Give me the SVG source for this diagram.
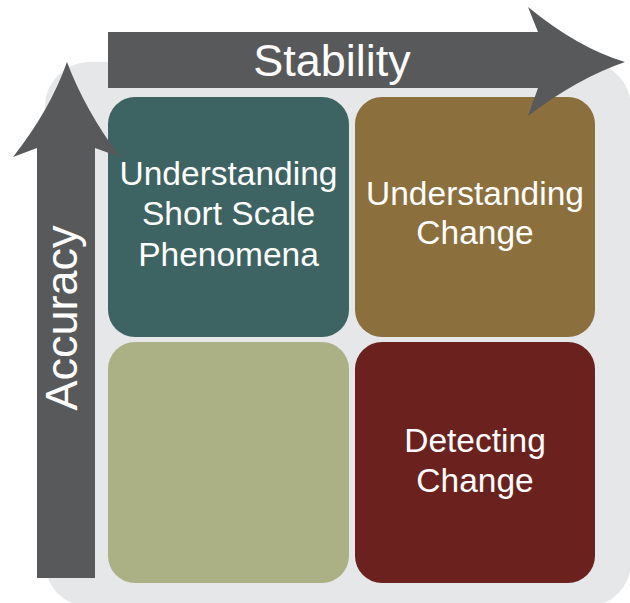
<svg xmlns="http://www.w3.org/2000/svg" width="630" height="603" viewBox="0 0 630 603">
<style>
.lbl{font-family:"Liberation Sans",Arial,sans-serif;fill:#ffffff;text-anchor:middle}
.q{font-size:33.5px}
.ax{font-size:45px}
.arrow{fill:#58595b}
</style>
<rect x="0" y="0" width="630" height="603" fill="#ffffff"/>
<rect id="background" x="45" y="62" width="586" height="545" rx="45" ry="45" fill="#e6e7e8"/>
<g id="q-short-scale">
<rect x="108" y="97" width="241" height="240" rx="27" ry="27" fill="#3d6462"/>
<text class="lbl q" x="228.5" y="185">Understanding</text>
<text class="lbl q" x="228.5" y="225">Short Scale</text>
<text class="lbl q" x="228.5" y="266">Phenomena</text>
</g>
<g id="q-understanding-change">
<rect x="355" y="97" width="240" height="240" rx="27" ry="27" fill="#8b6f3c"/>
<text class="lbl q" x="475" y="205">Understanding</text>
<text class="lbl q" x="475" y="244">Change</text>
</g>
<g id="q-empty">
<rect x="108" y="342" width="241" height="241" rx="27" ry="27" fill="#abb185"/>
</g>
<g id="q-detecting-change">
<rect x="355" y="342" width="240" height="241" rx="27" ry="27" fill="#6b221e"/>
<text class="lbl q" x="475" y="452">Detecting</text>
<text class="lbl q" x="475" y="492">Change</text>
</g>
<g id="connectors">
<path id="stability-arrow" class="arrow" d="M108,32 L538,32 L528,7 Q578,48 625,62 Q578,78 528,116 L538,88 L108,88 Z"/>
<path id="accuracy-arrow" class="arrow" d="M37,578 L37,148 L13,157 Q50,110 67,62 Q85,110 120,157 L95,148 L95,578 Z"/>
</g>
<g id="stability-label"><text class="lbl ax" x="332" y="76">Stability</text></g>
<g id="accuracy-label"><text class="lbl ax" transform="translate(77,318) rotate(-90)">Accuracy</text></g>
</svg>
